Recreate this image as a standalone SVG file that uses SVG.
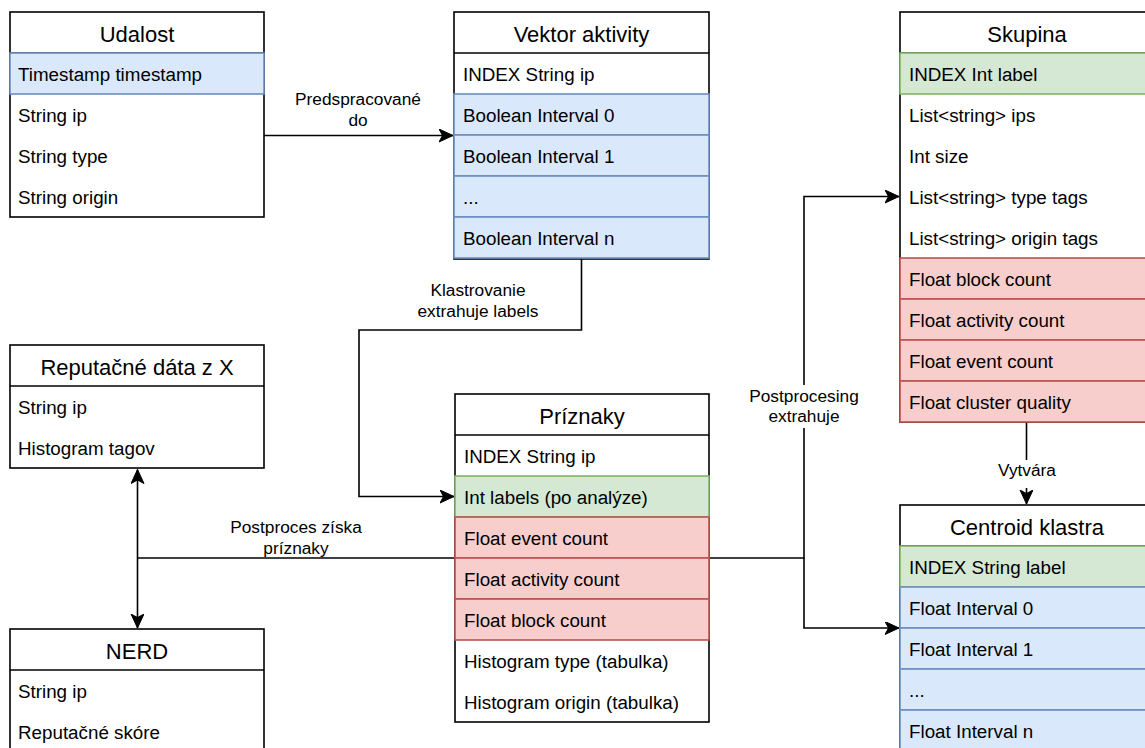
<svg xmlns="http://www.w3.org/2000/svg" width="1145" height="748" viewBox="0 0 1145 748">
  <style>
    text { font-family: "Liberation Sans", Arial, Helvetica, sans-serif; fill: #000; }
    .box { fill: #fff; stroke: #000; stroke-width: 1.6; }
    .sep { stroke: #000; stroke-width: 1.6; }
    .blue { fill: #dae8fc; stroke: #6c8ebf; stroke-width: 1.6; }
    .green { fill: #d5e8d4; stroke: #82b366; stroke-width: 1.6; }
    .red { fill: #f8cecc; stroke: #b85450; stroke-width: 1.6; }
    .t { font-size: 22px; text-anchor: middle; }
    .r { font-size: 18.8px; }
    .l { font-size: 17.3px; text-anchor: middle; }
    .edge { fill: none; stroke: #000; stroke-width: 1.6; }
    .bg { fill: #fff; stroke: none; }
  </style>
  <defs>
    <marker id="arrow" markerUnits="userSpaceOnUse" markerWidth="15" markerHeight="14" refX="14" refY="6.5" orient="auto-start-reverse" viewBox="0 0 15 14">
      <path d="M0,0 L14,6.5 L0,13 L3.5,6.5 Z" fill="#000" stroke="#000" stroke-width="1"/>
    </marker>
  </defs>

  <rect width="1145" height="748" fill="#fff"/>

  <!-- connectors -->
  <g id="connectors">
    <path class="edge" d="M264,135.5 H453" marker-end="url(#arrow)"/>
    <path class="edge" d="M581.5,259 V330 H359 V496.5 H454" marker-end="url(#arrow)"/>
    <path class="edge" d="M709,558 H804 V196.5 H899" marker-end="url(#arrow)"/>
    <path class="edge" d="M804,558 V628 H899" marker-end="url(#arrow)"/>
    <path class="edge" d="M455,558 H137.5"/>
    <path class="edge" d="M137.5,469.5 V628" marker-start="url(#arrow)" marker-end="url(#arrow)"/>
    <path class="edge" d="M1026.5,422 V504" marker-end="url(#arrow)"/>

    <text class="l" x="358" y="105">Predspracované</text>
    <text class="l" x="358" y="126">do</text>

    <text class="l" x="478" y="296">Klastrovanie</text>
    <text class="l" x="478" y="317">extrahuje labels</text>

    <text class="l" x="296" y="533">Postproces získa</text>
    <text class="l" x="296" y="554">príznaky</text>

    <rect class="bg" x="746" y="385" width="116" height="43"/>
    <text class="l" x="804" y="402">Postprocesing</text>
    <text class="l" x="804" y="422">extrahuje</text>

    <rect class="bg" x="995" y="460" width="64" height="28"/>
    <text class="l" x="1027" y="476">Vytvára</text>
  </g>

  <!-- Udalost -->
  <g id="udalost">
    <rect class="box" x="10" y="12" width="254" height="205"/>
    <line class="sep" x1="10" y1="53" x2="264" y2="53"/>
    <rect class="blue" x="10" y="53" width="254" height="41"/>
    <text class="t" x="137" y="42">Udalost</text>
    <text class="r" x="18" y="80.5">Timestamp timestamp</text>
    <text class="r" x="18" y="121.5">String ip</text>
    <text class="r" x="18" y="162.5">String type</text>
    <text class="r" x="18" y="203.5">String origin</text>
  </g>

  <!-- Vektor aktivity -->
  <g id="vektor-aktivity">
    <rect class="box" x="454" y="12" width="255" height="247"/>
    <line class="sep" x1="454" y1="53" x2="709" y2="53"/>
    <rect class="blue" x="454" y="94" width="255" height="41"/>
    <rect class="blue" x="454" y="135" width="255" height="41"/>
    <rect class="blue" x="454" y="176" width="255" height="41"/>
    <rect class="blue" x="454" y="217" width="255" height="41"/>
    <text class="t" x="581.5" y="42">Vektor aktivity</text>
    <text class="r" x="463" y="80.5">INDEX String ip</text>
    <text class="r" x="463" y="121.5">Boolean Interval 0</text>
    <text class="r" x="463" y="162.5">Boolean Interval 1</text>
    <text class="r" x="463" y="203.5">...</text>
    <text class="r" x="463" y="244.5">Boolean Interval n</text>
  </g>

  <!-- Skupina -->
  <g id="skupina">
    <rect class="box" x="900" y="12" width="254" height="410"/>
    <line class="sep" x1="900" y1="53" x2="1154" y2="53"/>
    <rect class="green" x="900" y="53" width="254" height="41"/>
    <rect class="red" x="900" y="258" width="254" height="41"/>
    <rect class="red" x="900" y="299" width="254" height="41"/>
    <rect class="red" x="900" y="340" width="254" height="41"/>
    <rect class="red" x="900" y="381" width="254" height="41"/>
    <text class="t" x="1027" y="42">Skupina</text>
    <text class="r" x="909" y="80.5">INDEX Int label</text>
    <text class="r" x="909" y="121.5">List&lt;string&gt; ips</text>
    <text class="r" x="909" y="162.5">Int size</text>
    <text class="r" x="909" y="203.5">List&lt;string&gt; type tags</text>
    <text class="r" x="909" y="244.5">List&lt;string&gt; origin tags</text>
    <text class="r" x="909" y="285.5">Float block count</text>
    <text class="r" x="909" y="326.5">Float activity count</text>
    <text class="r" x="909" y="367.5">Float event count</text>
    <text class="r" x="909" y="408.5">Float cluster quality</text>
  </g>

  <!-- Reputačné dáta z X -->
  <g id="reputacne-data">
    <rect class="box" x="10" y="345" width="254" height="123"/>
    <line class="sep" x1="10" y1="386" x2="264" y2="386"/>
    <text class="t" x="137" y="375">Reputačné dáta z X</text>
    <text class="r" x="18" y="413.5">String ip</text>
    <text class="r" x="18" y="454.5">Histogram tagov</text>
  </g>

  <!-- NERD -->
  <g id="nerd">
    <rect class="box" x="10" y="629" width="254" height="123"/>
    <line class="sep" x1="10" y1="670" x2="264" y2="670"/>
    <text class="t" x="137" y="659">NERD</text>
    <text class="r" x="18" y="697.5">String ip</text>
    <text class="r" x="18" y="738.5">Reputačné skóre</text>
  </g>

  <!-- Príznaky -->
  <g id="priznaky">
    <rect class="box" x="455" y="394" width="254" height="328"/>
    <line class="sep" x1="455" y1="435" x2="709" y2="435"/>
    <rect class="green" x="455" y="476" width="254" height="41"/>
    <rect class="red" x="455" y="517" width="254" height="41"/>
    <rect class="red" x="455" y="558" width="254" height="41"/>
    <rect class="red" x="455" y="599" width="254" height="41"/>
    <text class="t" x="582" y="424">Príznaky</text>
    <text class="r" x="464" y="462.5">INDEX String ip</text>
    <text class="r" x="464" y="503.5">Int labels (po analýze)</text>
    <text class="r" x="464" y="544.5">Float event count</text>
    <text class="r" x="464" y="585.5">Float activity count</text>
    <text class="r" x="464" y="626.5">Float block count</text>
    <text class="r" x="464" y="667.5">Histogram type (tabulka)</text>
    <text class="r" x="464" y="708.5">Histogram origin (tabulka)</text>
  </g>

  <!-- Centroid klastra -->
  <g id="centroid-klastra">
    <rect class="box" x="900" y="505" width="254" height="250"/>
    <line class="sep" x1="900" y1="546" x2="1154" y2="546"/>
    <rect class="green" x="900" y="546" width="254" height="41"/>
    <rect class="blue" x="900" y="587" width="254" height="41"/>
    <rect class="blue" x="900" y="628" width="254" height="41"/>
    <rect class="blue" x="900" y="669" width="254" height="41"/>
    <rect class="blue" x="900" y="710" width="254" height="41"/>
    <text class="t" x="1027" y="535">Centroid klastra</text>
    <text class="r" x="909" y="573.5">INDEX String label</text>
    <text class="r" x="909" y="614.5">Float Interval 0</text>
    <text class="r" x="909" y="655.5">Float Interval 1</text>
    <text class="r" x="909" y="696.5">...</text>
    <text class="r" x="909" y="737.5">Float Interval n</text>
  </g>
</svg>
